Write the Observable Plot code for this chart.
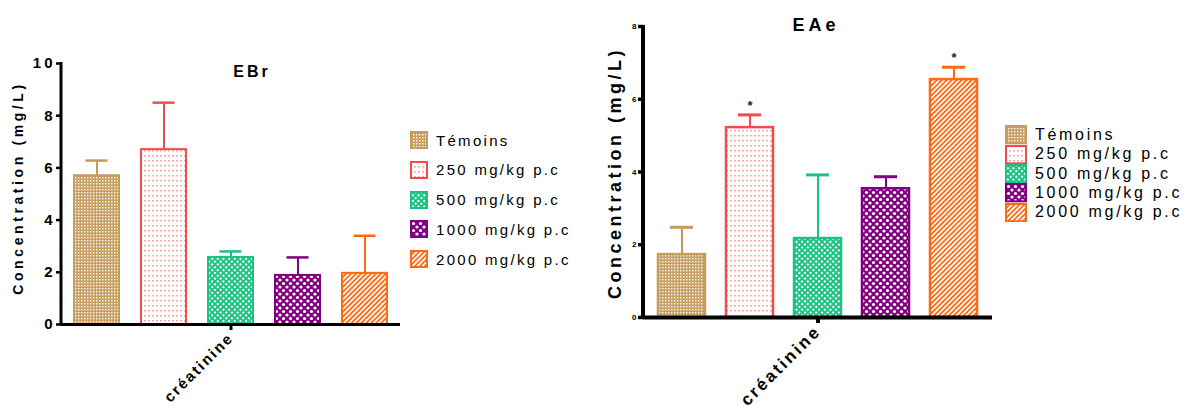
<!DOCTYPE html>
<html><head><meta charset="utf-8">
<script src="https://cdn.jsdelivr.net/npm/d3@7"></script>
<script src="https://cdn.jsdelivr.net/npm/@observablehq/plot@0.6"></script>
<style>
body{margin:0;background:#fff;}
#root{position:relative;width:1186px;height:405px;overflow:hidden;font-family:"Liberation Sans",Arial,sans-serif;color:#000;}
.wrap{position:absolute;top:0;}
.wrap svg{background:transparent;max-width:none;}
.title{position:absolute;font-weight:bold;white-space:nowrap;transform:translate(-50%,-50%);}
.ylab{position:absolute;font-weight:bold;white-space:nowrap;transform:translate(-50%,-50%) rotate(-90deg);}
.legrow{position:absolute;display:flex;align-items:center;white-space:nowrap;}
.legrow svg{display:block;flex:none;}
</style></head><body>
<svg width="0" height="0" style="position:absolute">
<defs>
<pattern id="pat0" patternUnits="userSpaceOnUse" width="3" height="3">
  <rect width="3" height="3" fill="#C99F62"/><rect width="1.4" height="1.4" fill="#fff"/>
</pattern>
<pattern id="pat1" patternUnits="userSpaceOnUse" width="4" height="5">
  <rect width="4" height="5" fill="#fff"/><rect width="2" height="1.5" fill="#F36B6B" opacity="0.6"/>
</pattern>
<pattern id="pat2" patternUnits="userSpaceOnUse" width="4" height="4" patternTransform="rotate(45)">
  <rect width="4" height="4" fill="#1EC283"/><rect width="2" height="2" fill="#fff"/>
</pattern>
<pattern id="pat3" patternUnits="userSpaceOnUse" width="7" height="7">
  <rect width="7" height="7" fill="#82007F"/>
  <circle cx="0" cy="0" r="1.6" fill="#fff"/><circle cx="7" cy="0" r="1.6" fill="#fff"/>
  <circle cx="0" cy="7" r="1.6" fill="#fff"/><circle cx="7" cy="7" r="1.6" fill="#fff"/>
  <circle cx="3.5" cy="3.5" r="1.6" fill="#fff"/>
</pattern>
<pattern id="pat4" patternUnits="userSpaceOnUse" width="3.5" height="3.5" patternTransform="rotate(45)">
  <rect width="3.5" height="3.5" fill="#fff"/><rect width="1.8" height="3.5" fill="#FF6A14"/>
</pattern>
</defs>
</svg>
<div id="root"></div>
<script>
// ---------- data ----------
const groups = ["Témoins", "250 mg/kg p.c", "500 mg/kg p.c", "1000 mg/kg p.c", "2000 mg/kg p.c"];
const strokes = ["#C69C5C", "#F44A4A", "#1DC184", "#800080", "#FF6A10"];
const testName = ["créatinine"];
const ebrMean = [5.7, 6.7, 2.57, 1.88, 1.96];
const ebrSD = [0.58, 1.8, 0.23, 0.69, 1.44];
const ebrSig = ["", "", "", "", ""];
const eaeMean = [1.73, 5.22, 2.17, 3.54, 6.54];
const eaeSD = [0.75, 0.35, 1.75, 0.33, 0.34];
const eaeSig = ["", "*", "", "", "*"];
const ebrTicks = [0, 2, 4, 6, 8, 10];
const eaeTicks = [0, 2, 4, 6, 8];
const yLabel = "Concentration (mg/L)";

const root = document.getElementById("root");

function chart(o) {
  const rows = groups.map((g, i) => ({test: testName[0], group: g, mean: o.mean[i], hi: o.mean[i] + o.sd[i], sig: o.sig[i]}));
  const marks = [];
  groups.forEach((g, i) => {
    const r = rows.filter(d => d.group === g);
    marks.push(Plot.ruleX(r, {fx: "test", x: "group", y1: "mean", y2: "hi", stroke: strokes[i], strokeWidth: 2}));
    marks.push(Plot.tickY(r, {fx: "test", x: "group", y: "hi", stroke: strokes[i], strokeWidth: o.capW, insetLeft: o.capInset, insetRight: o.capInset}));
    marks.push(Plot.barY(r, {fx: "test", x: "group", y: "mean", fill: `url(#pat${i})`, stroke: strokes[i], strokeWidth: o.barW}));
  });
  marks.push(Plot.text(rows.filter(d => d.sig), {fx: "test", x: "group", y: "hi", text: "sig", dy: -9, fontSize: 13, fontWeight: "bold", fill: "#222"}));
  marks.push(Plot.ruleY([0], {stroke: "#000", strokeWidth: o.axisW}));
  marks.push(Plot.axisY({ticks: o.ticks, tickSize: 5, tickPadding: o.tickPad, strokeWidth: o.axisW - 0.5, fontSize: o.tickFont, fontWeight: "bold", label: null, fill: "#000"}));
  marks.push(Plot.axisFx({anchor: "bottom", tickSize: 6, tickRotate: -45, tickPadding: 5, strokeWidth: o.axisW, fontSize: o.catFont, fontWeight: "bold", label: null, fill: "#000"}));
  const plot = Plot.plot({
    width: o.width, height: 405,
    marginLeft: o.ml, marginRight: o.mr, marginTop: o.mt, marginBottom: o.mb,
    style: {fontFamily: "Liberation Sans, Arial, sans-serif", background: "transparent", overflow: "visible", color: "#000"},
    fx: {domain: testName, padding: 0, label: null},
    x: {domain: groups, axis: null, paddingInner: o.padIn, paddingOuter: o.padOut},
    y: {domain: [0, o.ticks[o.ticks.length - 1]], axis: null},
    marks
  });
  // letter-spacing of tick texts
  const tickStr = o.ticks.map(String);
  d3.select(plot).selectAll("text").each(function () {
    const s = this.textContent.trim();
    if (tickStr.includes(s)) d3.select(this).attr("letter-spacing", o.tickLS);
    else if (s === testName[0]) d3.select(this).attr("letter-spacing", o.catLS);
  });
  // y-axis domain line drawn from the plot's own scales
  const ys = plot.scale("y");
  let x0 = o.ml;
  try { x0 = plot.scale("fx").range[0]; } catch (e) {}
  d3.select(plot).append("line")
    .attr("x1", x0).attr("x2", x0)
    .attr("y1", ys.range[0] + o.axisW / 2).attr("y2", ys.range[1] - 1)
    .attr("stroke", "#000").attr("stroke-width", o.axisW);
  const w = document.createElement("div");
  w.className = "wrap";
  w.style.left = o.left + "px";
  w.style.width = o.width + "px";
  w.appendChild(plot);
  root.appendChild(w);

  const t = document.createElement("div");
  t.className = "title";
  t.textContent = o.title;
  Object.assign(t.style, {left: o.titleX + "px", top: o.titleY + "px", fontSize: o.titleFont + "px", letterSpacing: o.titleLS + "px"});
  root.appendChild(t);

  const yl = document.createElement("div");
  yl.className = "ylab";
  yl.textContent = yLabel;
  Object.assign(yl.style, {left: o.ylabX + "px", top: o.ylabY + "px", fontSize: o.ylabFont + "px", letterSpacing: o.ylabLS + "px"});
  root.appendChild(yl);

  groups.forEach((g, i) => {
    const row = document.createElement("div");
    row.className = "legrow";
    Object.assign(row.style, {left: o.legX + "px", top: (o.legY + i * o.legStep - o.swH / 2) + "px", height: o.swH + "px", fontSize: o.legFont + "px", letterSpacing: o.legLS + "px"});
    row.innerHTML = `<svg width="${o.swW}" height="${o.swH}"><rect x="1" y="1" width="${o.swW - 2}" height="${o.swH - 2}" fill="url(#pat${i})" stroke="${strokes[i]}" stroke-width="2"/></svg><span style="margin-left:${o.legGap}px">${g}</span>`;
    root.appendChild(row);
  });
}

chart({
  left: 0, width: 600, ml: 61, mr: 200, mt: 63, mb: 81,
  mean: ebrMean, sd: ebrSD, sig: ebrSig, ticks: ebrTicks,
  padIn: 0.33, padOut: 0.19, capInset: 11.5, capW: 2.5, barW: 2, axisW: 3,
  tickFont: 15, tickLS: 3, tickPad: 1, catFont: 15, catLS: 2,
  title: "EBr", titleX: 252, titleY: 72, titleFont: 16, titleLS: 3,
  ylabX: 18, ylabY: 188, ylabFont: 14, ylabLS: 3.6,
  legX: 410, legY: 140, legStep: 29.8, swW: 18, swH: 18, legGap: 8, legFont: 15, legLS: 2.3
});

chart({
  left: 590, width: 420, ml: 53, mr: 18, mt: 26, mb: 88,
  mean: eaeMean, sd: eaeSD, sig: eaeSig, ticks: eaeTicks,
  padIn: 0.31, padOut: 0.19, capInset: 12, capW: 3, barW: 2.5, axisW: 4,
  tickFont: 8, tickLS: 1, tickPad: 1, catFont: 17, catLS: 2.5,
  title: "EAe", titleX: 816, titleY: 25, titleFont: 18, titleLS: 4,
  ylabX: 615, ylabY: 173, ylabFont: 18, ylabLS: 3.5,
  legX: 1005, legY: 135, legStep: 19.3, swW: 22, swH: 19.3, legGap: 8, legFont: 16, legLS: 2.7
});
</script>
</body></html>
